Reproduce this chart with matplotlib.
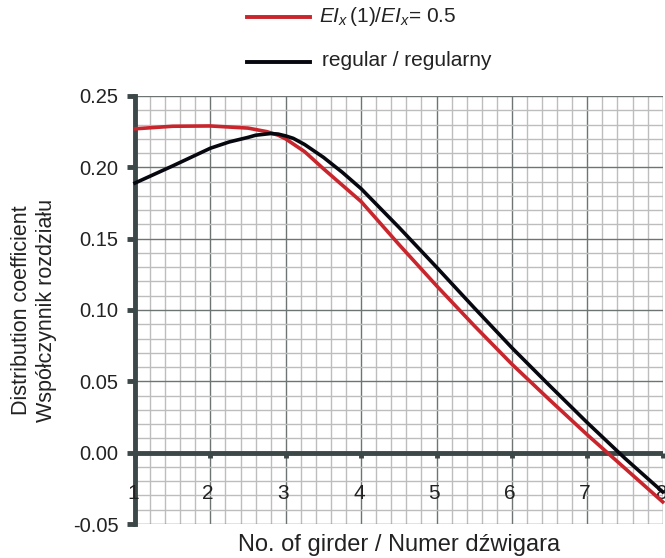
import numpy as np
import matplotlib
matplotlib.use("Agg")
import matplotlib.pyplot as plt
from matplotlib.lines import Line2D
from matplotlib.ticker import MultipleLocator

plt.rcParams['font.family'] = ['Liberation Sans', 'DejaVu Sans']
plt.rcParams['mathtext.fontset'] = 'custom'
plt.rcParams['mathtext.rm'] = 'Liberation Sans'
plt.rcParams['mathtext.it'] = 'Liberation Sans:italic'

# Girder positions and distribution coefficients
x_red = [1.0, 1.5, 2.0, 2.5, 2.75, 2.9, 3.0, 3.25, 3.5, 4.0, 4.5, 5.0, 5.5, 6.0, 6.5, 7.0, 7.5, 8.0]
y_red = [0.227, 0.2288, 0.2290, 0.2275, 0.2250, 0.2225, 0.2199, 0.211, 0.199, 0.176, 0.146,
         0.117, 0.089, 0.062, 0.037, 0.0125, -0.011, -0.0345]

x_black = [1.0, 1.5, 2.0, 2.25, 2.5, 2.6, 2.8, 2.9, 3.0, 3.1, 3.25, 3.5, 3.75, 4.0, 4.5,
           5.0, 5.5, 6.0, 6.5, 7.0, 7.5, 8.0]
y_black = [0.189, 0.201, 0.2134, 0.2178, 0.221, 0.2225, 0.2237, 0.2233, 0.222, 0.2203,
           0.216, 0.207, 0.1965, 0.185, 0.158, 0.130, 0.1015, 0.0735, 0.047, 0.021,
           -0.004, -0.0275]

x_ticks = [1, 2, 3, 4, 5, 6, 7, 8]
y_ticks = [-0.05, 0.00, 0.05, 0.10, 0.15, 0.20, 0.25]

label_red = r"$EI_x\,$(1)/$EI_x$= 0.5"
label_black = "regular / regularny"

RED = "#c9252c"
BLACK = "#070710"
AXIS = "#3c4747"
TEXT = "#222222"

fig = plt.figure(figsize=(6.65, 5.58), dpi=100)
ax = fig.add_axes([135 / 665, 1 - 524 / 558, (662.7 - 135) / 665, (524 - 96) / 558])

ax.set_xlim(1, 8)
ax.set_ylim(-0.05, 0.25)

# Grid: fine and major lines
ax.xaxis.set_minor_locator(MultipleLocator(0.2))
ax.yaxis.set_minor_locator(MultipleLocator(0.01))
ax.xaxis.set_major_locator(MultipleLocator(1))
ax.yaxis.set_major_locator(MultipleLocator(0.05))
ax.grid(which='minor', color='#bdbdbd', lw=1.0)
ax.grid(which='major', color='#6e7474', lw=1.0)
ax.set_axisbelow(True)

for s in ['top', 'right', 'bottom']:
    ax.spines[s].set_visible(False)
ax.spines['left'].set_color(AXIS)
ax.spines['left'].set_linewidth(3.5)

ax.set_yticks(y_ticks)
ax.set_yticklabels([f"{v:.2f}" for v in y_ticks])
ax.tick_params(axis='y', which='major', direction='out', length=6, width=3.5,
               color=AXIS, labelsize=14.5, labelcolor=TEXT, pad=6)
ax.tick_params(axis='y', which='minor', length=0)
ax.tick_params(axis='x', which='both', length=0, labelbottom=False)

# Horizontal axis drawn at zero
ax.axhline(0, color=AXIS, lw=3.5, zorder=3)
for xt in x_ticks:
    ax.plot([xt, xt], [0, -0.0035], color=AXIS, lw=3.5, solid_capstyle='butt', zorder=3,
            clip_on=False)
    ax.text(xt - 0.03, -0.0285, str(xt), ha='center', va='center', fontsize=15,
            color=TEXT, zorder=4, clip_on=False)

ax.plot(x_red, y_red, color=RED, lw=2.6, solid_joinstyle='round', zorder=5, clip_on=False)
ax.plot(x_black, y_black, color=BLACK, lw=2.6, solid_joinstyle='round', zorder=6, clip_on=False)

ax.set_xlabel("No. of girder / Numer dźwigara", fontsize=17, color=TEXT, labelpad=7)
fig.text(34 / 665, 1 - 310 / 558, "Distribution coefficient\nWspółczynnik rozdziału",
         rotation=90, ha='center', va='center', fontsize=15.5, color=TEXT,
         linespacing=1.25)

# Legend above the plot
fig.add_artist(Line2D([247 / 665, 310 / 665], [1 - 17 / 558] * 2, color=RED, lw=2.8,
                      transform=fig.transFigure))
fig.add_artist(Line2D([247 / 665, 310 / 665], [1 - 62 / 558] * 2, color=BLACK, lw=2.8,
                      transform=fig.transFigure))
fig.text(319 / 665, 1 - 17 / 558, label_red, ha='left', va='center', fontsize=15,
         color=TEXT)
fig.text(322 / 665, 1 - 61 / 558, label_black, ha='left', va='center', fontsize=15,
         color=TEXT)

fig.savefig("out.png", dpi=100)
